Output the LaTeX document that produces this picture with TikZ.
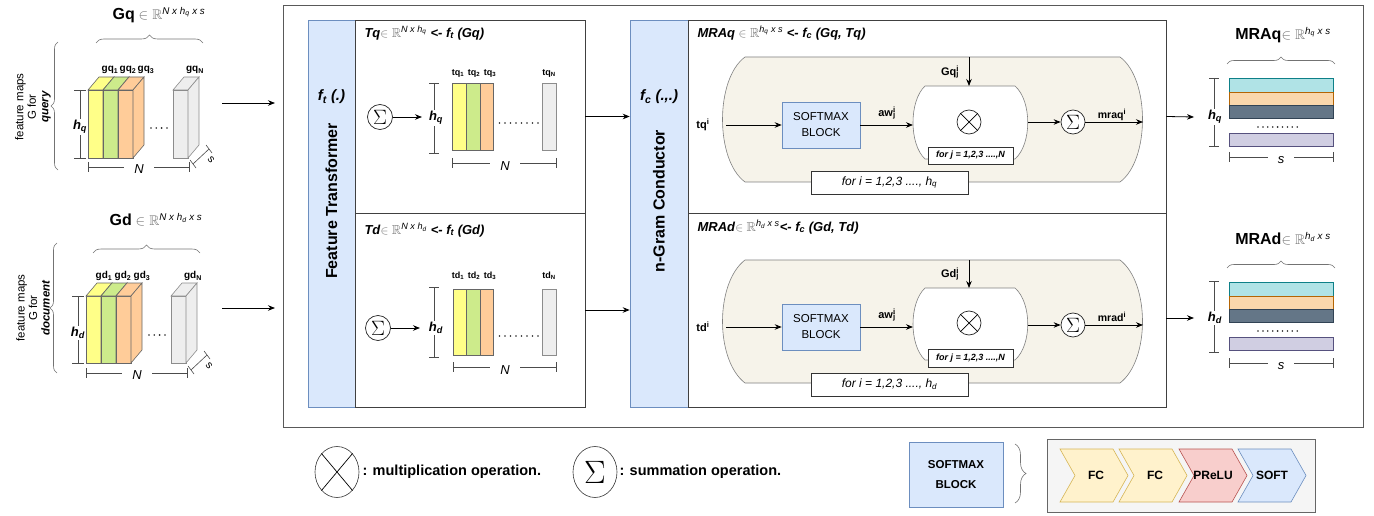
\documentclass[tikz,border=0pt]{standalone}
\usepackage{fontspec}
\setmainfont{Liberation Sans}
\usepackage{amssymb}
\usepackage{graphicx}
\usetikzlibrary{arrows.meta,shapes.geometric,decorations.pathreplacing}
\definecolor{bfill}{HTML}{DAE8FC}
\definecolor{bline}{HTML}{6C8EBF}
\definecolor{cyel}{HTML}{FFFF88}
\definecolor{cgrn}{HTML}{CDEB8B}
\definecolor{corg}{HTML}{FFCC99}
\definecolor{cgry}{HTML}{EEEEEE}
\definecolor{cbeige}{HTML}{F6F3EA}
\definecolor{cteal}{HTML}{B0E3E6}
\definecolor{steal}{HTML}{0E8088}
\definecolor{corl}{HTML}{FAD7AC}
\definecolor{sorl}{HTML}{B46504}
\definecolor{cdark}{HTML}{647687}
\definecolor{sdark}{HTML}{314354}
\definecolor{clav}{HTML}{D0CEE2}
\definecolor{slav}{HTML}{56517E}
\definecolor{cfc}{HTML}{FFF2CC}
\definecolor{sfc}{HTML}{D6B656}
\definecolor{cprl}{HTML}{F8CECC}
\definecolor{sprl}{HTML}{B85450}
\definecolor{cbox}{HTML}{F5F5F5}
\newcommand{\myfs}[1]{\fontsize{#1}{#1}\selectfont}
\newcommand{\hlab}[2]{\textbf{\textit{#1}}\textsubscript{\textbf{\textit{#2}}}}
\newcommand{\drawprism}[5]{%
  \filldraw[fill=#4,draw=#5,line width=0.6pt] (#1,#2) rectangle (#1+15,#3);
  \filldraw[fill=#4,draw=#5,line width=0.6pt] (#1,#2) -- (#1+11,#2-13) -- (#1+26,#2-13) -- (#1+15,#2) -- cycle;
  \filldraw[fill=#4,draw=#5,line width=0.6pt] (#1+15,#2) -- (#1+26,#2-13) -- (#1+26,#3-13) -- (#1+15,#3) -- cycle;}
\begin{document}
\begin{tikzpicture}[x=1pt,y=-1pt,
  arr/.style={-{Stealth[length=7pt,width=5.5pt]},line width=0.8pt},
  dimline/.style={draw=black!70,line width=0.6pt},
  brc/.style={decorate,decoration={brace,amplitude=#1},draw=black!55,line width=0.6pt},
  panel/.style={draw=black!75,line width=0.9pt,fill=white,inner sep=0pt},
  bluecol/.style={draw=bline,fill=bfill,line width=0.6pt,inner sep=0pt},
  smx/.style={draw=bline,fill=bfill,line width=0.6pt,minimum width=78pt,minimum height=46pt,align=center,font=\fontsize{11.5}{16}\selectfont},
  opc/.style={circle,draw=black!85,line width=0.7pt,minimum size=24pt,inner sep=0pt,fill=white},
  sig/.style={font=\myfs{21}},
  loopbox/.style={draw=black!80,fill=white,line width=0.6pt,inner sep=0pt},
  lbl/.style={inner sep=1pt},
  dimlbl/.style={fill=white,inner sep=1pt},
  bar/.style={line width=0.6pt},
  dots/.style={fill=black!85},
  chev/.style={line width=0.6pt}
]
\useasboundingbox (0,0) rectangle (1374,516);

% ---------------- outer frame ----------------
\draw[draw=black!65,line width=0.8pt] (283,5) rectangle (1363,427);

% ---------------- left: query feature maps ----------------
\node[font=\myfs{14}] (gqt) at (159,15) {{\myfs{16}\bfseries Gq} {\color{black!55}$\in\mathbb{R}$}\textsuperscript{\itshape N x h\textsubscript{q} x s}};
\draw[brc=8pt] (96,43) -- (203,43);
\draw[brc=7pt] (58,170) -- (58,42);
\node[rotate=90,align=center,font=\fontsize{11.5}{12.5}\selectfont] (fmq) at (33,107) {feature maps\\G for\\\textbf{\textit{query}}};
\drawprism{88}{90}{158}{cyel}{black!60}
\drawprism{103}{90}{158}{cgrn}{black!60}
\drawprism{118}{90}{158}{corg}{black!60}
\drawprism{173}{90}{158}{cgry}{black!45}
\node[font=\myfs{10}\bfseries] at (110,70) {gq\textsubscript{1}};
\node[font=\myfs{10}\bfseries] at (128,70) {gq\textsubscript{2}};
\node[font=\myfs{10}\bfseries] at (146,70) {gq\textsubscript{3}};
\node[font=\myfs{10}\bfseries] at (195,70) {gq\textsubscript{N}};
\foreach \i in {0,...,3} \fill[dots] (151+5.3*\i,128) circle (0.9);
\draw[dimline] (80,90) -- (80,158) (74,90) -- (86,90) (74,158) -- (86,158);
\node[dimlbl,font=\myfs{13}] at (80,127) {\hlab{h}{q}};
\draw[dimline] (88,167) -- (189,167) (88,162) -- (88,172) (189,162) -- (189,172);
\node[dimlbl,inner xsep=10pt,inner ysep=0pt,font=\myfs{13}\itshape] at (139,169) {N};
\draw[dimline] (193,164) -- (209,149) (190,160) -- (196,168) (206,145) -- (212,153);
\node[font=\myfs{11},rotate=-50] at (211,160) {s};

% ---------------- left: document feature maps ----------------
\node[font=\myfs{14}] (gdt) at (156,220) {{\myfs{16}\bfseries Gd} {\color{black!55}$\in\mathbb{R}$}\textsuperscript{\itshape N x h\textsubscript{d} x s}};
\draw[brc=8pt] (93,253) -- (200,253);
\draw[brc=7pt] (57,373) -- (57,243);
\node[rotate=90,align=center,font=\fontsize{11.5}{12.5}\selectfont] (fmd) at (33,308) {feature maps\\G for\\\textbf{\textit{document}}};
\drawprism{86}{296}{363}{cyel}{black!60}
\drawprism{101}{296}{363}{cgrn}{black!60}
\drawprism{116}{296}{363}{corg}{black!60}
\drawprism{171}{296}{363}{cgry}{black!45}
\node[font=\myfs{10}\bfseries] at (104,276) {gd\textsubscript{1}};
\node[font=\myfs{10}\bfseries] at (123,276) {gd\textsubscript{2}};
\node[font=\myfs{10}\bfseries] at (142,276) {gd\textsubscript{3}};
\node[font=\myfs{10}\bfseries] at (193,276) {gd\textsubscript{N}};
\foreach \i in {0,...,3} \fill[dots] (149+5.3*\i,335) circle (0.9);
\draw[dimline] (78,296) -- (78,363) (72,296) -- (84,296) (72,363) -- (84,363);
\node[dimlbl,font=\myfs{13}] at (78,333) {\hlab{h}{d}};
\draw[dimline] (86,373) -- (187,373) (86,368) -- (86,378) (187,368) -- (187,378);
\node[dimlbl,inner xsep=10pt,inner ysep=0pt,font=\myfs{13}\itshape] at (137,375) {N};
\draw[dimline] (191,370) -- (207,355) (188,366) -- (194,374) (204,351) -- (210,359);
\node[font=\myfs{11},rotate=-50] at (209,366) {s};

% arrows into the frame
\coordinate (gqo) at (222,103);
\coordinate (gqi) at (275,103);
\coordinate (gdo) at (222,308);
\coordinate (gdi) at (275,308);
\draw[arr] (gqo) -- (gqi);
\draw[arr] (gdo) -- (gdi);

% ---------------- Feature Transformer ----------------
\node[bluecol,minimum width=47pt,minimum height=387pt] (ftcol) at (331.5,213.5) {};
\node[font=\myfs{15}] at (331.5,97) {\textbf{\textit{f\textsubscript{t} (.)}}};
\node[rotate=90,font=\myfs{16}\bfseries] at (331.5,201) {Feature Transformer};
\node[panel,minimum width=230pt,minimum height=193pt] (ftq) at (470,116.5) {};
\node[panel,minimum width=230pt,minimum height=194pt] (ftd) at (470,310) {};

\node[anchor=west,font=\myfs{13}] at (361,33) {\textbf{\textit{Tq}}{\color{black!55}$\in\mathbb{R}$}\textsuperscript{\textit{N x h\textsubscript{q}}} \textbf{\textit{<- f\textsubscript{t} (Gq)}}};
\node[opc,minimum size=25pt,sig] (fsq) at (380,117) {$\Sigma$};
\coordinate (hqin) at (422,117);
\draw[arr] (fsq) -- (hqin);
\draw[dimline] (434,83) -- (434,153) (429,83) -- (439,83) (429,153) -- (439,153);
\node[dimlbl,font=\myfs{13}] at (436,118) {\hlab{h}{q}};
\filldraw[bar,fill=cyel,draw=black!60] (452,83) rectangle (466,150);
\filldraw[bar,fill=cgrn,draw=black!60] (466,83) rectangle (480,150);
\filldraw[bar,fill=corg,draw=black!60] (480,83) rectangle (493,150);
\filldraw[bar,fill=cgry,draw=black!45] (542,83) rectangle (556,150);
\foreach \i in {0,...,7} \fill[dots] (499.5+5.5*\i,123) circle (0.9);
\node[font=\myfs{9}\bfseries] at (458,73) {tq\textsubscript{1}};
\node[font=\myfs{9}\bfseries] at (474,73) {tq\textsubscript{2}};
\node[font=\myfs{9}\bfseries] at (490,73) {tq\textsubscript{3}};
\node[font=\myfs{9}\bfseries] at (549,73) {tq\textsubscript{N}};
\draw[dimline] (452,163) -- (556,163) (452,158) -- (452,168) (556,158) -- (556,168);
\node[dimlbl,inner xsep=10pt,inner ysep=0pt,font=\myfs{13}\itshape] at (505,166) {N};

\node[anchor=west,font=\myfs{13}] at (361,230) {\textbf{\textit{Td}}{\color{black!55}$\in\mathbb{R}$}\textsuperscript{\textit{N x h\textsubscript{d}}} \textbf{\textit{<- f\textsubscript{t} (Gd)}}};
\node[opc,minimum size=25pt,sig] (fsd) at (378,328) {$\Sigma$};
\coordinate (hdin) at (420,328);
\draw[arr] (fsd) -- (hdin);
\draw[dimline] (434,287) -- (434,357) (429,287) -- (439,287) (429,357) -- (439,357);
\node[dimlbl,font=\myfs{13}] at (436,328) {\hlab{h}{d}};
\filldraw[bar,fill=cyel,draw=black!60] (453,289) rectangle (466,355);
\filldraw[bar,fill=cgrn,draw=black!60] (466,289) rectangle (480,355);
\filldraw[bar,fill=corg,draw=black!60] (480,289) rectangle (493,355);
\filldraw[bar,fill=cgry,draw=black!45] (542,289) rectangle (556,355);
\foreach \i in {0,...,7} \fill[dots] (499.5+5.5*\i,336) circle (0.9);
\node[font=\myfs{9}\bfseries] at (458,276) {td\textsubscript{1}};
\node[font=\myfs{9}\bfseries] at (474,276) {td\textsubscript{2}};
\node[font=\myfs{9}\bfseries] at (490,276) {td\textsubscript{3}};
\node[font=\myfs{9}\bfseries] at (549,276) {td\textsubscript{N}};
\draw[dimline] (453,367) -- (556,367) (453,362) -- (453,372) (556,362) -- (556,372);
\node[dimlbl,inner xsep=10pt,inner ysep=0pt,font=\myfs{13}\itshape] at (505,370) {N};

% ---------------- n-Gram Conductor ----------------
\node[bluecol,minimum width=58pt,minimum height=387pt] (ngcol) at (659,213.5) {};
\node[font=\myfs{15}] at (659,97) {\textbf{\textit{f\textsubscript{c} (.,.)}}};
\node[rotate=90,font=\myfs{16}\bfseries] at (659,201) {n-Gram Conductor};
\node[panel,minimum width=478pt,minimum height=193pt] (ngq) at (927,116.5) {};
\node[panel,minimum width=478pt,minimum height=194pt] (ngd) at (927,310) {};
\draw[arr] (ftq.east) -- (ngcol.west |- ftq.east);
\draw[arr] (ftd.east) -- (ngcol.west |- ftd.east);

% upper conductor
\node[anchor=west,font=\myfs{13}] at (694,33) {\textbf{\textit{MRAq}} {\color{black!55}$\in\mathbb{R}$}\textsuperscript{\textit{h\textsubscript{q} x s}} \textbf{\textit{<- f\textsubscript{c} (Gq, Tq)}}};
\filldraw[fill=cbeige,draw=black!50,line width=0.6pt] (745,57) -- (1120,57) .. controls (1150,79) and (1150,160) .. (1120,182) -- (745,182) .. controls (715,160) and (715,79) .. (745,57) -- cycle;
\filldraw[fill=white,draw=black!50,line width=0.6pt] (925,86) -- (1015,86) .. controls (1032,101) and (1032,144) .. (1015,159) -- (925,159) .. controls (909,144) and (909,101) .. (925,86) -- cycle;
\node[smx] (smq) at (821,125) {SOFTMAX\\BLOCK};
\coordinate (tqin) at (726,125);
\coordinate (mulqin) at (913,125);
\coordinate (gqtop) at (969,57);
\coordinate (mulqtop) at (969,86);
\coordinate (mulqout) at (1028,122);
\coordinate (ngqout) at (1143,122);
\node[opc] (mq) at (969,122) {};
\draw[line width=0.7pt] (mq.45) -- (mq.225) (mq.135) -- (mq.315);
\node[opc,sig] (sq) at (1073,122) {$\Sigma$};
\node[lbl,font=\myfs{11}\bfseries] at (703,125) {tq\textsuperscript{i}};
\node[lbl,font=\myfs{11}\bfseries] at (887,113) {aw\rlap{\textsuperscript{i}}\textsubscript{j}};
\node[lbl,font=\myfs{11}\bfseries] at (950,72) {Gq\rlap{\textsuperscript{i}}\textsubscript{j}};
\node[lbl,font=\myfs{10.5}\bfseries] at (1112,115) {mraq\textsuperscript{i}};
\draw[arr] (tqin) -- (smq);
\draw[arr] (smq) -- (mulqin);
\draw[arr] (gqtop) -- (mulqtop);
\draw[arr] (mulqout) -- (sq);
\draw[arr] (sq) -- (ngqout);
\node[loopbox,minimum width=85pt,minimum height=17pt,font=\myfs{9}\bfseries\itshape] (forjq) at (970.5,155.5) {for j = 1,2,3 ....,N};
\node[loopbox,minimum width=157pt,minimum height=23pt,font=\myfs{12}\itshape] (foriq) at (889.5,182.5) {for i = 1,2,3 ...., h\textsubscript{q}};

% lower conductor
\node[anchor=west,font=\myfs{13}] at (694,227) {\textbf{\textit{MRAd}}{\color{black!55}$\in\mathbb{R}$}\textsuperscript{\textit{h\textsubscript{d} x s}}\textbf{\textit{<- f\textsubscript{c} (Gd, Td)}}};
\filldraw[fill=cbeige,draw=black!50,line width=0.6pt] (745,260) -- (1120,260) .. controls (1150,283) and (1150,360) .. (1120,383) -- (745,383) .. controls (715,360) and (715,283) .. (745,260) -- cycle;
\filldraw[fill=white,draw=black!50,line width=0.6pt] (925,288) -- (1015,288) .. controls (1032,303) and (1032,345) .. (1015,360) -- (925,360) .. controls (909,345) and (909,303) .. (925,288) -- cycle;
\node[smx] (smd) at (821,327) {SOFTMAX\\BLOCK};
\coordinate (tdin) at (726,327);
\coordinate (muldin) at (913,327);
\coordinate (gdtop) at (969,260);
\coordinate (muldtop) at (969,288);
\coordinate (muldout) at (1028,325);
\coordinate (ngdout) at (1143,325);
\node[opc] (md) at (969,323) {};
\draw[line width=0.7pt] (md.45) -- (md.225) (md.135) -- (md.315);
\node[opc,sig] (sd) at (1073,325) {$\Sigma$};
\node[lbl,font=\myfs{11}\bfseries] at (703,327) {td\textsuperscript{i}};
\node[lbl,font=\myfs{11}\bfseries] at (887,315) {aw\rlap{\textsuperscript{i}}\textsubscript{j}};
\node[lbl,font=\myfs{11}\bfseries] at (950,274) {Gd\rlap{\textsuperscript{i}}\textsubscript{j}};
\node[lbl,font=\myfs{10.5}\bfseries] at (1112,317) {mrad\textsuperscript{i}};
\draw[arr] (tdin) -- (smd);
\draw[arr] (smd) -- (muldin);
\draw[arr] (gdtop) -- (muldtop);
\draw[arr] (muldout) -- (sd);
\draw[arr] (sd) -- (ngdout);
\node[loopbox,minimum width=85pt,minimum height=18pt,font=\myfs{9}\bfseries\itshape] (forjd) at (970.5,358) {for j = 1,2,3 ....,N};
\node[loopbox,minimum width=157pt,minimum height=23pt,font=\myfs{12}\itshape] (forid) at (889.5,384.5) {for i = 1,2,3 ...., h\textsubscript{d}};

% ---------------- outputs ----------------
\coordinate (oq) at (1194,117);
\coordinate (od) at (1194,318);
\draw[arr] (ngq.east) -- (oq);
\draw[arr] (ngd.east |- od) -- (od);

\node[font=\myfs{14}] at (1283,35) {{\myfs{16}\bfseries MRAq}{\color{black!55}$\in\mathbb{R}$}\textsuperscript{\itshape h\textsubscript{q} x s}};
\draw[brc=7pt] (1227,64) -- (1335,64);
\filldraw[bar,fill=cteal,draw=steal] (1229,78) rectangle (1333,92);
\filldraw[bar,fill=corl,draw=sorl] (1229,92) rectangle (1333,105);
\filldraw[bar,fill=cdark,draw=sdark] (1229,105) rectangle (1333,118);
\foreach \i in {0,...,8} \fill[dots] (1258+4.9*\i,127) circle (0.9);
\filldraw[bar,fill=clav,draw=slav] (1229,133) rectangle (1333,146);
\draw[dimline] (1214,78) -- (1214,146) (1209,78) -- (1219,78) (1209,146) -- (1219,146);
\node[dimlbl,font=\myfs{13}] at (1215,117) {\hlab{h}{q}};
\draw[dimline] (1229,157) -- (1333,157) (1229,152) -- (1229,162) (1333,152) -- (1333,162);
\node[dimlbl,inner xsep=10pt,inner ysep=0pt,font=\myfs{13}\itshape] at (1281,160) {s};

\node[font=\myfs{14}] at (1283,239) {{\myfs{16}\bfseries MRAd}{\color{black!55}$\in\mathbb{R}$}\textsuperscript{\itshape h\textsubscript{d} x s}};
\draw[brc=7pt] (1227,268) -- (1335,268);
\filldraw[bar,fill=cteal,draw=steal] (1229,282) rectangle (1333,296);
\filldraw[bar,fill=corl,draw=sorl] (1229,296) rectangle (1333,309);
\filldraw[bar,fill=cdark,draw=sdark] (1229,309) rectangle (1333,322);
\foreach \i in {0,...,8} \fill[dots] (1258+4.9*\i,331) circle (0.9);
\filldraw[bar,fill=clav,draw=slav] (1229,337) rectangle (1333,350);
\draw[dimline] (1214,281) -- (1214,352) (1209,281) -- (1219,281) (1209,352) -- (1219,352);
\node[dimlbl,font=\myfs{13}] at (1215,318) {\hlab{h}{d}};
\draw[dimline] (1229,363) -- (1333,363) (1229,358) -- (1229,368) (1333,358) -- (1333,368);
\node[dimlbl,inner xsep=10pt,inner ysep=0pt,font=\myfs{13}\itshape] at (1281,366) {s};

% ---------------- legend ----------------
\node[ellipse,draw=black!80,line width=0.6pt,minimum width=44pt,minimum height=51pt,inner sep=0pt] (lm) at (337,472) {};
\draw[line width=0.7pt] (lm.50) -- (lm.230) (lm.130) -- (lm.310);
\node[anchor=west,font=\myfs{14.5}\bfseries] at (359,472) {: multiplication operation.};
\node[ellipse,draw=black!80,line width=0.6pt,minimum width=44pt,minimum height=51pt,inner sep=0pt,font=\myfs{24}] (ls) at (595,472) {\scalebox{1.3}{$\Sigma$}};
\node[anchor=west,font=\myfs{14.5}\bfseries] at (616,472) {: summation operation.};
\node[draw=bline,fill=bfill,line width=0.6pt,minimum width=94pt,minimum height=65pt,align=center,font=\fontsize{11.5}{20}\selectfont\bfseries] (smleg) at (956,474.5) {SOFTMAX\\BLOCK};
\draw[brc=11pt] (1015,444) -- (1015,503);
\node[draw=black!60,fill=cbox,line width=0.6pt,minimum width=268pt,minimum height=73pt,inner sep=0pt] (chain) at (1181,475.5) {};
\filldraw[chev,fill=cfc,draw=sfc] (1060,449) -- (1113,449) -- (1128,475.5) -- (1113,502) -- (1060,502) -- (1075,475.5) -- cycle;
\filldraw[chev,fill=cfc,draw=sfc] (1119,449) -- (1172,449) -- (1187,475.5) -- (1172,502) -- (1119,502) -- (1134,475.5) -- cycle;
\filldraw[chev,fill=cprl,draw=sprl] (1179,449) -- (1232,449) -- (1247,475.5) -- (1232,502) -- (1179,502) -- (1194,475.5) -- cycle;
\filldraw[chev,fill=bfill,draw=bline] (1238,449) -- (1291,449) -- (1306,475.5) -- (1291,502) -- (1238,502) -- (1253,475.5) -- cycle;
\node[font=\myfs{12}\bfseries] at (1096,475.5) {FC};
\node[font=\myfs{12}\bfseries] at (1155,475.5) {FC};
\node[font=\myfs{12}\bfseries] at (1213,475.5) {PReLU};
\node[font=\myfs{12}\bfseries] at (1272,475.5) {SOFT};
\end{tikzpicture}
\end{document}
